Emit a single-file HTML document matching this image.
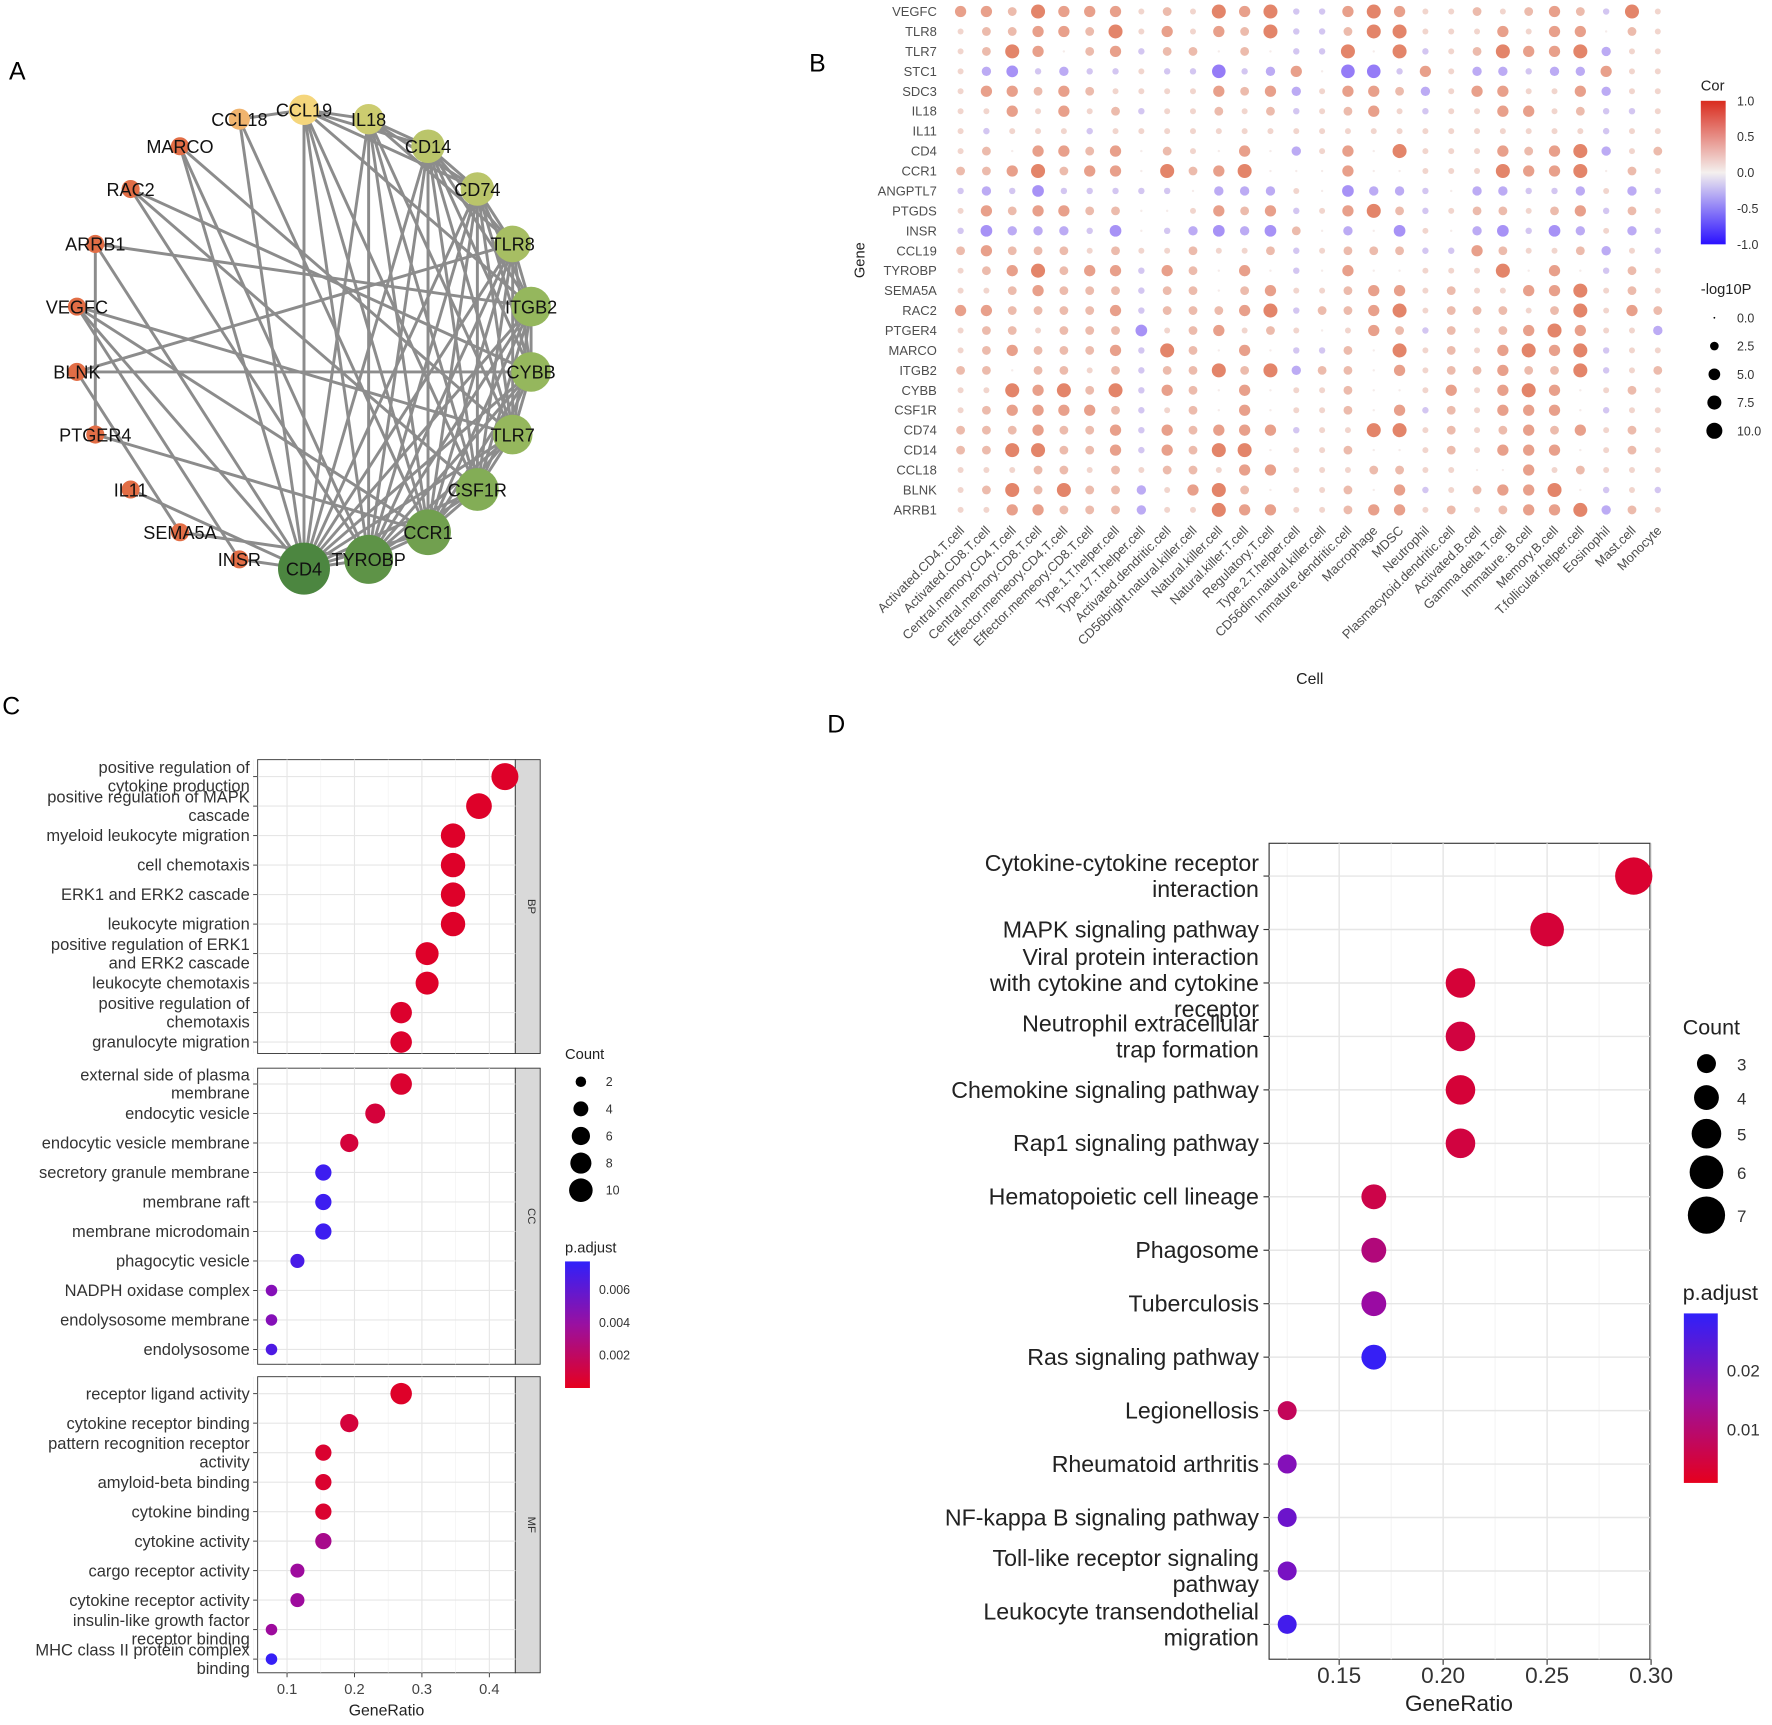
<!DOCTYPE html>
<html><head><meta charset="utf-8">
<style>
html,body{margin:0;padding:0;background:#fff;}
svg{display:block;font-family:"Liberation Sans",Arial,sans-serif;}
</style></head>
<body>
<svg id="fig" width="1772" height="1725" viewBox="0 0 1568 1526" xmlns="http://www.w3.org/2000/svg">
<defs>
<linearGradient id="corGrad" x1="0" y1="1" x2="0" y2="0">
<stop offset="0" stop-color="#2a10ff"/><stop offset="0.5" stop-color="#f4f0ee"/><stop offset="1" stop-color="#d92c1e"/>
</linearGradient>
<linearGradient id="pGrad" x1="0" y1="1" x2="0" y2="0">
<stop offset="0" stop-color="#e6001e"/><stop offset="0.5" stop-color="#9a10a0"/><stop offset="1" stop-color="#3020fa"/>
</linearGradient>
</defs>
<text x="8" y="70" font-size="22">A</text>
<text x="716" y="63" font-size="22">B</text>
<text x="2" y="632" font-size="22">C</text>
<text x="732" y="648" font-size="22">D</text>
<g id="panelA"></g>
<g id="panelB"></g>
<g id="panelC"></g>
<g id="panelD"></g>
</svg>
<script>
// ---------- Panel A data ----------
const netNodes = ["CCL19","IL18","CD14","CD74","TLR8","ITGB2","CYBB","TLR7","CSF1R","CCR1","TYROBP","CD4","INSR","SEMA5A","IL11","PTGER4","BLNK","VEGFC","ARRB1","RAC2","MARCO","CCL18"];
const netDegree = [6,6,7,7,8,9,9,9,10,11,12,13,2,2,2,2,2,2,2,2,2,3];
const netEdges = [
["CD4","CCL19"],["CD4","IL18"],["CD4","CD14"],["CD4","CD74"],["CD4","TLR8"],["CD4","ITGB2"],["CD4","CYBB"],["CD4","TLR7"],["CD4","CSF1R"],["CD4","CCR1"],["CD4","TYROBP"],["CD4","INSR"],["CD4","IL11"],["CD4","ARRB1"],["CD4","VEGFC"],["CD4","MARCO"],["CD4","CCL18"],
["TYROBP","CCL19"],["TYROBP","IL18"],["TYROBP","CD14"],["TYROBP","CD74"],["TYROBP","TLR8"],["TYROBP","ITGB2"],["TYROBP","CYBB"],["TYROBP","TLR7"],["TYROBP","CSF1R"],["TYROBP","CCR1"],["TYROBP","MARCO"],["TYROBP","RAC2"],["TYROBP","SEMA5A"],
["CCR1","CCL19"],["CCR1","CCL18"],["CCR1","IL18"],["CCR1","CD14"],["CCR1","CD74"],["CCR1","TLR8"],["CCR1","ITGB2"],["CCR1","CYBB"],["CCR1","TLR7"],["CCR1","CSF1R"],["CCR1","VEGFC"],["CCR1","PTGER4"],
["CSF1R","IL18"],["CSF1R","CD14"],["CSF1R","CD74"],["CSF1R","TLR8"],["CSF1R","ITGB2"],["CSF1R","CYBB"],["CSF1R","TLR7"],["CSF1R","CCL19"],
["TLR7","IL18"],["TLR7","CD14"],["TLR7","CD74"],["TLR7","TLR8"],["TLR7","ITGB2"],["TLR7","CYBB"],["TLR7","VEGFC"],
["CYBB","CD14"],["CYBB","CD74"],["CYBB","TLR8"],["CYBB","ITGB2"],["CYBB","RAC2"],["CYBB","BLNK"],
["ITGB2","CD14"],["ITGB2","CD74"],["ITGB2","TLR8"],["ITGB2","ARRB1"],["ITGB2","CCL19"],
["TLR8","CD14"],["TLR8","CD74"],["TLR8","IL18"],["CD74","CD14"],["CD74","IL18"],["CD74","CCL19"],["CD14","IL18"],["CD14","CCL19"],["IL18","CCL19"],["CCL19","CCL18"],
["ARRB1","PTGER4"],["VEGFC","INSR"],["BLNK","TLR8"],["MARCO","TLR7"],["RAC2","CSF1R"],["SEMA5A","BLNK"]
];
// ---------- Panel B data ----------
const geneNames = ["VEGFC","TLR8","TLR7","STC1","SDC3","IL18","IL11","CD4","CCR1","ANGPTL7","PTGDS","INSR","CCL19","TYROBP","SEMA5A","RAC2","PTGER4","MARCO","ITGB2","CYBB","CSF1R","CD74","CD14","CCL18","BLNK","ARRB1"];
const cellNames = ["Activated.CD4.T.cell","Activated.CD8.T.cell","Central.memory.CD4.T.cell","Central.memory.CD8.T.cell","Effector.memeory.CD4.T.cell","Effector.memeory.CD8.T.cell","Type.1.T.helper.cell","Type.17.T.helper.cell","Activated.dendritic.cell","CD56bright.natural.killer.cell","Natural.killer.cell","Natural.killer.T.cell","Regulatory.T.cell","Type.2.T.helper.cell","CD56dim.natural.killer.cell","Immature.dendritic.cell","Macrophage","MDSC","Neutrophil","Plasmacytoid.dendritic.cell","Activated.B.cell","Gamma.delta.T.cell","Immature..B.cell","Memory.B.cell","T.follicular.helper.cell","Eosinophil","Mast.cell","Monocyte"];
// code per cell: 0 none, 1-4 positive strength, a-d negative strength
const corCodes = [
"3324333121434aa3431121232a41",
"1223324131324aa2441113133021",
"1243023a22020aa404a124334b11",
"1bcabaa1aadab30dda31bbabb311",
"1332321111323b1332b133113b11",
"1131312a11212a1231a113312aa1",
"1a111a1111111111111111111a11",
"1203323021030b13041113234b12",
"2234233042340003001114334021",
"abacaaaaa0bbb10cbba0bbaab1ba",
"1323322001323a1342a122123a21",
"acbbbac0abcbc20b0c10bcacb1ba",
"2322212112112a1222aa32112b1a",
"1234233a32030a03001114030a21",
"1123222a22023112331211334121",
"3322223a22234a22341222124132",
"1221222c1231210132a21234311b",
"1232223a42030aa2041213434a11",
"2202212a22424b22031223224a12",
"1143424a32030112001313430121",
"1233332a1203011203a213330a11",
"2223223a32333a11441212323121",
"2244223a32440112001213330121",
"1112212122133111221100312111",
"1242422b1342011203a123340a1a",
"1133222b11433112331212334b21"
];
const codeCor = {"0":0.02,"1":0.15,"2":0.3,"3":0.45,"4":0.6,"a":-0.2,"b":-0.33,"c":-0.45,"d":-0.55};
const codeLogP = {"0":0.05,"1":1,"2":2.6,"3":4.6,"4":7.5,"a":1.2,"b":3,"c":5,"d":7};
const corValues = corCodes.map(r => r.split("").map(c => codeCor[c]));
const logPValues = corCodes.map(r => r.split("").map(c => codeLogP[c]));
const corTicks = [1.0,0.5,0.0,-0.5,-1.0];
const logPTicks = [0.0,2.5,5.0,7.5,10.0];
// ---------- Panel C data ----------
const goTerms = [
["positive regulation of","cytokine production"],["positive regulation of MAPK","cascade"],["myeloid leukocyte migration"],["cell chemotaxis"],["ERK1 and ERK2 cascade"],["leukocyte migration"],["positive regulation of ERK1","and ERK2 cascade"],["leukocyte chemotaxis"],["positive regulation of","chemotaxis"],["granulocyte migration"],
["external side of plasma","membrane"],["endocytic vesicle"],["endocytic vesicle membrane"],["secretory granule membrane"],["membrane raft"],["membrane microdomain"],["phagocytic vesicle"],["NADPH oxidase complex"],["endolysosome membrane"],["endolysosome"],
["receptor ligand activity"],["cytokine receptor binding"],["pattern recognition receptor","activity"],["amyloid-beta binding"],["cytokine binding"],["cytokine activity"],["cargo receptor activity"],["cytokine receptor activity"],["insulin-like growth factor","receptor binding"],["MHC class II protein complex","binding"]
];
const goOntology = ["BP","BP","BP","BP","BP","BP","BP","BP","BP","BP","CC","CC","CC","CC","CC","CC","CC","CC","CC","CC","MF","MF","MF","MF","MF","MF","MF","MF","MF","MF"];
const goCounts = [11,10,9,9,9,9,8,8,7,7, 7,6,5,4,4,4,3,2,2,2, 7,5,4,4,4,4,3,3,2,2];
const goPadj = [0.0003,0.0003,0.0003,0.0003,0.0003,0.0003,0.0003,0.0003,0.0004,0.0004, 0.0005,0.0008,0.0008,0.0072,0.0072,0.0072,0.0068,0.0045,0.0045,0.0066, 0.0003,0.0008,0.0005,0.0005,0.0005,0.003,0.0035,0.0035,0.0035,0.0075];
const goGeneTotal = 26;
const goXTicks = [0.1,0.2,0.3,0.4];
const goCountTicks = [2,4,6,8,10];
const goPTicks = [0.006,0.004,0.002];
// ---------- Panel D data ----------
const keggTerms = [["Cytokine-cytokine receptor","interaction"],["MAPK signaling pathway"],["Viral protein interaction","with cytokine and cytokine","receptor"],["Neutrophil extracellular","trap formation"],["Chemokine signaling pathway"],["Rap1 signaling pathway"],["Hematopoietic cell lineage"],["Phagosome"],["Tuberculosis"],["Ras signaling pathway"],["Legionellosis"],["Rheumatoid arthritis"],["NF-kappa B signaling pathway"],["Toll-like receptor signaling","pathway"],["Leukocyte transendothelial","migration"]];
const keggCounts = [7,6,5,5,5,5,4,4,4,4,3,3,3,3,3];
const keggPadj = [0.003,0.004,0.004,0.005,0.004,0.005,0.006,0.012,0.017,0.034,0.008,0.021,0.025,0.023,0.032];
const keggGeneTotal = 24;
const keggXTicks = [0.15,0.20,0.25,0.30];
const keggCountTicks = [3,4,5,6,7];
const keggPTicks = [0.02,0.01];

const NS="http://www.w3.org/2000/svg";
function mk(parent,tag,attrs,txt){const e=document.createElementNS(NS,tag);for(const k in attrs)e.setAttribute(k,attrs[k]);if(txt!==undefined)e.textContent=txt;parent.appendChild(e);return e;}
function lerp(a,b,t){return Math.round(a+(b-a)*t);}
function rgb(c){return "rgb("+c[0]+","+c[1]+","+c[2]+")";}
function mix(c1,c2,t){return [lerp(c1[0],c2[0],t),lerp(c1[1],c2[1],t),lerp(c1[2],c2[2],t)];}

// ================= Panel A =================
(function(){
 const g=document.getElementById("panelA");
 const cx=269,cy=300,R=203;
 const pos={};
 netNodes.forEach((n,i)=>{const ang=-Math.PI/2+i*2*Math.PI/netNodes.length;pos[n]=[cx+R*Math.cos(ang),cy+R*Math.sin(ang)];});
 netEdges.forEach(e=>{
  const a=pos[e[0]],b=pos[e[1]];
  const l=mk(g,"line",{x1:a[0],y1:a[1],x2:b[0],y2:b[1],stroke:"#8c8c8c","stroke-width":2.6});
  
  
 });
 const cols=[[226,110,70],[240,180,110]];
 const maxD=Math.max(...netDegree);
 netNodes.forEach((n,i)=>{
  const d=netDegree[i],p=pos[n];
  const t=(d-2)/(maxD-2);
  let c;
  if(d<=2) c=cols[0]; else if(d===3) c=cols[1];
  else { const s=(d-6)/(maxD-6); c = s<0.5? mix([204,204,112],[140,180,90],s*2) : mix([140,180,90],[76,134,64],(s-0.5)*2); }
  if(n==="CCL19") c=[245,214,124];
  const r=8+t*15;
  const ci=mk(g,"circle",{cx:p[0],cy:p[1],r:r,fill:rgb(c)});
  
  
  const tx=mk(g,"text",{x:p[0],y:p[1]+6,"font-size":16,"text-anchor":"middle",fill:"#111"},n);
  
  
 });
})();

// ================= Panel B =================
(function(){
 const g=document.getElementById("panelB");
 const x0=850,dx=22.85,y0=10,dy=17.64;
 const xs=j=>x0+j*dx, ys=i=>y0+i*dy;
 const pos=[214,62,18],neg=[70,30,255],mid=[246,240,238];
 function corColor(v){return v>=0?rgb(mix(mid,pos,Math.min(1,v))):rgb(mix(mid,neg,Math.min(1,-v)));}
 const rad=p=>0.6+Math.sqrt(p)*2.05;
 geneNames.forEach((gn,i)=>{
  const t=mk(g,"text",{x:829,y:ys(i)+4,"font-size":11.5,"text-anchor":"end",fill:"#4d4d4d"},gn);
  
  
  corValues[i].forEach((v,j)=>{
   const c=mk(g,"circle",{cx:xs(j),cy:ys(i),r:rad(logPValues[i][j]),fill:corColor(v)});
   
   
  });
 });
 cellNames.forEach((cn,j)=>{
  const t=mk(g,"text",{x:xs(j)+4,y:470,"font-size":11.5,"text-anchor":"end",fill:"#4d4d4d",transform:"rotate(-45 "+(xs(j)+4)+" 470)"},cn);
  
  
 });
 mk(g,"text",{x:765,y:230,"font-size":13,"text-anchor":"middle",fill:"#222",transform:"rotate(-90 765 230)",},"Gene");
 mk(g,"text",{x:1159,y:605,"font-size":14,"text-anchor":"middle",fill:"#222",},"Cell");
 mk(g,"text",{x:1505,y:80,"font-size":13,fill:"#222",},"Cor");
 mk(g,"rect",{x:1505,y:89,width:22,height:127,fill:"url(#corGrad)",});
 corTicks.forEach(v=>{const y=152.5-v*63.5;
  const t=mk(g,"text",{x:1537,y:y+4,"font-size":11,fill:"#333"},v.toFixed(1));
  
  
 });
 mk(g,"text",{x:1505,y:260,"font-size":13,fill:"#222",},"-log10P");
 logPTicks.forEach((v,k)=>{const y=281+k*25;
  const c=mk(g,"circle",{cx:1517,cy:y,r:v===0?0.8:rad(v),fill:"#000"});
  
  
  const t=mk(g,"text",{x:1537,y:y+4,"font-size":11,fill:"#333"},v.toFixed(1));
  
  
 });
})();

function pColor(p,pmin,pmax){const t=Math.max(0,Math.min(1,(p-pmin)/(pmax-pmin)));
 const red=[228,0,30],pur=[150,12,170],blue=[48,32,250];
 return rgb(t<0.5?mix(red,pur,t*2):mix(pur,blue,(t-0.5)*2));}

// ================= Panel C =================
(function(){
 const g=document.getElementById("panelC");
 const px0=228,px1=456;
 const xs=v=>254+(v-0.1)*596.7;
 const facets=[["BP",672,932],["CC",945,1207],["MF",1218,1480]];
 facets.forEach(f=>{
  mk(g,"rect",{x:px0,y:f[1],width:px1-px0,height:f[2]-f[1],fill:"#fff",stroke:"#333","stroke-width":0.8,});
  [0.05,0.15,0.25,0.35].forEach(v=>mk(g,"line",{x1:xs(v),x2:xs(v),y1:f[1],y2:f[2],stroke:"#f2f2f2","stroke-width":0.6}));
  goXTicks.forEach(v=>mk(g,"line",{x1:xs(v),x2:xs(v),y1:f[1],y2:f[2],stroke:"#e6e6e6","stroke-width":1}));
  mk(g,"rect",{x:px1,y:f[1],width:22,height:f[2]-f[1],fill:"#d9d9d9",stroke:"#333","stroke-width":0.8,});
  const sx=px1+11,sy=(f[1]+f[2])/2;
  mk(g,"text",{x:sx,y:sy,"font-size":10,"text-anchor":"middle",fill:"#333",transform:"rotate(90 "+sx+" "+sy+")",},f[0]);
 });
 const rowY={BP:[687,26.1],CC:[959,26.1],MF:[1233,26.1]};
 const idx={BP:0,CC:0,MF:0};
 goTerms.forEach((lines,i)=>{
  const o=goOntology[i];const y=rowY[o][0]+idx[o]*rowY[o][1];idx[o]++;
  mk(g,"line",{x1:px0,x2:px1,y1:y,y2:y,stroke:"#e6e6e6","stroke-width":1});
  mk(g,"line",{x1:px0-4,x2:px0,y1:y,y2:y,stroke:"#333","stroke-width":0.8});
  const t=mk(g,"text",{x:221,y:y+5-(lines.length-1)*8,"font-size":14.6,"text-anchor":"end",fill:"#333"});
  
  
  lines.forEach((ln,k)=>mk(t,"tspan",{x:221,dy:k===0?0:16},ln));
  const c=mk(g,"circle",{cx:xs(goCounts[i]/goGeneTotal),cy:y,r:Math.sqrt(goCounts[i])*3.6,fill:pColor(goPadj[i],0,0.0077)});
  
  
 });
 goXTicks.forEach(v=>{
  mk(g,"line",{x1:xs(v),x2:xs(v),y1:1480,y2:1484,stroke:"#333","stroke-width":0.8});
  const t=mk(g,"text",{x:xs(v),y:1499,"font-size":13,"text-anchor":"middle",fill:"#444"},String(v));
  
  
 });
 mk(g,"text",{x:342,y:1518,"font-size":14,"text-anchor":"middle",fill:"#222",},"GeneRatio");
 mk(g,"text",{x:500,y:937,"font-size":13,fill:"#222",},"Count");
 goCountTicks.forEach((v,k)=>{const y=957+k*24;
  const c=mk(g,"circle",{cx:514,cy:y,r:Math.sqrt(v)*3.3,fill:"#000"});
  
  
  const t=mk(g,"text",{x:536,y:y+4,"font-size":11,fill:"#333"},String(v));
  
  
 });
 mk(g,"text",{x:500,y:1108,"font-size":13,fill:"#222",},"p.adjust");
 mk(g,"rect",{x:500,y:1116,width:22,height:112,fill:"url(#pGrad)",});
 goPTicks.forEach(v=>{const y=1228-v/0.002*29;
  const t=mk(g,"text",{x:530,y:y+4,"font-size":11,fill:"#333"},v.toFixed(3));
  
  
 });
})();

// ================= Panel D =================
(function(){
 const g=document.getElementById("panelD");
 const px0=1123,px1=1460,py0=746,py1=1468;
 const xs=v=>1185+(v-0.15)*1840;
 mk(g,"rect",{x:px0,y:py0,width:px1-px0,height:py1-py0,fill:"#fff",stroke:"#333","stroke-width":1,});
 [0.125,0.175,0.225,0.275].forEach(v=>mk(g,"line",{x1:xs(v),x2:xs(v),y1:py0,y2:py1,stroke:"#f2f2f2","stroke-width":0.8}));
 keggXTicks.forEach(v=>mk(g,"line",{x1:xs(v),x2:xs(v),y1:py0,y2:py1,stroke:"#e6e6e6","stroke-width":1.3}));
 keggTerms.forEach((lines,i)=>{
  const y=775+i*47.3;
  mk(g,"line",{x1:px0,x2:px1,y1:y,y2:y,stroke:"#e6e6e6","stroke-width":1.3});
  mk(g,"line",{x1:px0-5,x2:px0,y1:y,y2:y,stroke:"#333","stroke-width":1});
  const t=mk(g,"text",{x:1114,y:y+7-(lines.length-1)*11.5,"font-size":20.5,"text-anchor":"end",fill:"#222"});
  
  
  lines.forEach((ln,k)=>mk(t,"tspan",{x:1114,dy:k===0?0:23},ln));
  const c=mk(g,"circle",{cx:xs(keggCounts[i]/keggGeneTotal),cy:y,r:16.5*Math.sqrt((keggCounts[i]-1.6)/5.4),fill:pColor(keggPadj[i],0.0008,0.035)});
  
  
 });
 keggXTicks.forEach(v=>{
  mk(g,"line",{x1:xs(v),x2:xs(v),y1:py1,y2:py1+5,stroke:"#333","stroke-width":1});
  const t=mk(g,"text",{x:xs(v),y:1489,"font-size":20,"text-anchor":"middle",fill:"#333"},v.toFixed(2));
  
  
 });
 mk(g,"text",{x:1291,y:1514,"font-size":20,"text-anchor":"middle",fill:"#222",},"GeneRatio");
 mk(g,"text",{x:1489,y:915,"font-size":19,fill:"#222",},"Count");
 const ly=[941,971,1003,1037,1075];
 keggCountTicks.forEach((v,k)=>{
  const c=mk(g,"circle",{cx:1510,cy:ly[k],r:16.5*Math.sqrt((v-1.6)/5.4),fill:"#000"});
  
  
  const t=mk(g,"text",{x:1537,y:ly[k]+6,"font-size":15,fill:"#333"},String(v));
  
  
 });
 mk(g,"text",{x:1489,y:1150,"font-size":19,fill:"#222",},"p.adjust");
 mk(g,"rect",{x:1490,y:1162,width:30,height:150,fill:"url(#pGrad)",});
 keggPTicks.forEach(v=>{const y=1264-(v-0.01)/0.01*52;
  const t=mk(g,"text",{x:1528,y:y+6,"font-size":15,fill:"#333"},String(v));
  
  
 });
})();
</script>
</body></html>
